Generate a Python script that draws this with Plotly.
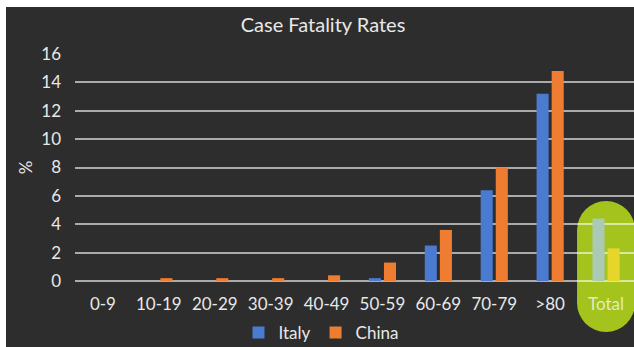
import plotly.graph_objects as go

# Age groups and case fatality rates (%)
age_groups = ["0-9", "10-19", "20-29", "30-39", "40-49", "50-59", "60-69", "70-79", ">80", "Total"]
italy = [0, 0, 0, 0, 0, 0.2, 2.5, 6.4, 13.2, 4.4]
china = [0, 0.2, 0.2, 0.2, 0.4, 1.3, 3.6, 8.0, 14.8, 2.3]
y_ticks = [0, 2, 4, 6, 8, 10, 12, 14, 16]

BOARD = "#2d2d2d"
CHALK = "#e8e8e8"
ITALY_BLUE = "#4a7bd0"
CHINA_ORANGE = "#ef7d31"
HIGHLIGHT = "#a4c31d"
FONT = "Lato"

W, H = 634, 347
ML, MR, MT, MB = 75, 0, 54, 66
plot_w = W - ML - MR
plot_h = H - MT - MB

# The "Total" group gets its own softened colours on the highlight
italy_colors = [ITALY_BLUE] * (len(age_groups) - 1) + ["#abcab6"]
china_colors = [CHINA_ORANGE] * (len(age_groups) - 1) + ["#e6d62c"]
tick_text = age_groups[:-1] + [f'<span style="color:#e3ebbd">{age_groups[-1]}</span>']

fig = go.Figure()
fig.add_trace(go.Bar(name="Italy", x=list(range(len(age_groups))), y=italy,
                     marker=dict(color=italy_colors, line=dict(width=0))))
fig.add_trace(go.Bar(name="China", x=list(range(len(age_groups))), y=china,
                     marker=dict(color=china_colors, line=dict(width=0))))


def px_to_paper_x(px):
    return (px - ML) / plot_w


def px_to_paper_y(py):
    return (H - MB - py) / plot_h


shapes = []
# the board itself, leaving a thin white edge at the top and left
shapes.append(dict(type="rect", xref="paper", yref="paper",
                   x0=px_to_paper_x(6), x1=px_to_paper_x(W), y0=px_to_paper_y(H), y1=px_to_paper_y(7),
                   fillcolor=BOARD, line=dict(width=0), layer="below"))

# rounded highlight behind the "Total" group
n_cat = len(age_groups)
cx = ML + (n_cat - 1 + 0.5) / n_cat * plot_w
r = 29
top, bottom = 201, 332
for cy in (top + r, bottom - r):
    shapes.append(dict(type="circle", xref="paper", yref="paper",
                       x0=px_to_paper_x(cx - r), x1=px_to_paper_x(cx + r),
                       y0=px_to_paper_y(cy + r), y1=px_to_paper_y(cy - r),
                       fillcolor=HIGHLIGHT, line=dict(width=0), layer="below"))
shapes.append(dict(type="rect", xref="paper", yref="paper",
                   x0=px_to_paper_x(cx - r), x1=px_to_paper_x(cx + r),
                   y0=px_to_paper_y(bottom - r), y1=px_to_paper_y(top + r),
                   fillcolor=HIGHLIGHT, line=dict(width=0), layer="below"))

fig.update_layout(
    width=W, height=H,
    margin=dict(l=ML, r=MR, t=MT, b=MB, pad=0, autoexpand=False),
    paper_bgcolor="white",
    plot_bgcolor="rgba(0,0,0,0)",
    font=dict(family=FONT, color=CHALK, size=17),
    title=dict(text="Case Fatality Rates", x=323 / W, xanchor="center",
               y=1 - 25 / H, yanchor="middle", font=dict(size=20, color=CHALK, family=FONT)),
    barmode="group",
    bargap=0.46,
    bargroupgap=0.2,
    shapes=shapes,
    showlegend=True,
    legend=dict(orientation="h", x=px_to_paper_x(321), xanchor="center",
                y=px_to_paper_y(333), yanchor="middle",
                font=dict(size=17, color=CHALK, family=FONT),
                bgcolor="rgba(0,0,0,0)", itemwidth=30, tracegroupgap=0),
    xaxis=dict(range=[-0.5, n_cat - 0.5], tickmode="array",
               tickvals=list(range(n_cat)), ticktext=tick_text,
               showgrid=False, zeroline=False, showline=False, ticks="",
               ticklabelstandoff=11, tickfont=dict(size=17, color=CHALK, family=FONT),
               fixedrange=True),
    yaxis=dict(range=[0, 16], tickmode="array", tickvals=y_ticks,
               showgrid=True, gridcolor="rgba(255,255,255,0.6)", gridwidth=1.6,
               zeroline=True, zerolinecolor="rgba(255,255,255,0.6)", zerolinewidth=1.6,
               showline=False, ticks="", ticklabelstandoff=13,
               tickfont=dict(size=17, color=CHALK, family=FONT),
               title=dict(text="%", standoff=4, font=dict(size=17, color=CHALK, family=FONT)),
               fixedrange=True),
)

fig.write_html("out.html")
